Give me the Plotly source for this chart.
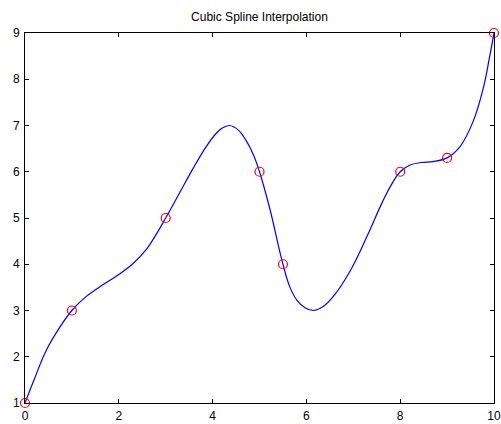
import plotly.graph_objects as go

# Data points (knots)
knot_x = [0, 1, 3, 5, 5.5, 8, 9, 10]
knot_y = [1, 3, 5, 6, 4, 6, 6.3, 9]

# Interpolated curve
curve_x = [0.0, 0.2, 0.45, 0.75, 1.0, 1.3, 1.65, 2.0, 2.3, 2.6, 2.8, 3.0, 3.3, 3.6, 3.85,
           4.05, 4.2, 4.36, 4.55, 4.7, 4.87, 5.0, 5.22, 5.5, 5.65, 5.8, 5.97, 6.15, 6.35,
           6.57, 6.93, 7.3, 7.6, 7.8, 8.0, 8.2, 8.45, 8.7, 9.0, 9.28, 9.56, 9.77, 9.9, 10.0]
curve_y = [1.0, 1.52, 2.13, 2.65, 3.0, 3.3, 3.55, 3.78, 4.01, 4.34, 4.65, 5.0, 5.55, 6.1, 6.52,
           6.8, 6.94, 7.0, 6.9, 6.7, 6.37, 6.0, 5.2, 4.0, 3.5, 3.22, 3.06, 3.0, 3.08,
           3.3, 3.85, 4.62, 5.3, 5.7, 6.0, 6.14, 6.2, 6.22, 6.3, 6.55, 7.1, 7.8, 8.45, 9.0]

x_ticks = [0, 2, 4, 6, 8, 10]
y_ticks = [1, 2, 3, 4, 5, 6, 7, 8, 9]

fig = go.Figure()
fig.add_trace(go.Scatter(x=curve_x, y=curve_y, mode="lines",
                         line=dict(color="#0000ff", width=1.2, shape="spline", smoothing=1.1),
                         hoverinfo="skip", showlegend=False))
fig.add_trace(go.Scatter(x=knot_x, y=knot_y, mode="markers",
                         marker=dict(symbol="circle-open", size=9, color="#ff0000",
                                     line=dict(width=1.2, color="#ff0000")),
                         cliponaxis=False, showlegend=False))

axis_common = dict(showgrid=False, zeroline=False, showline=True, linecolor="black",
                   linewidth=1, mirror="ticks", ticks="inside", ticklen=4, tickwidth=1,
                   tickcolor="black", automargin=False,
                   tickfont=dict(family="Liberation Sans, Arial, sans-serif", size=12, color="black"))

fig.update_layout(
    width=501, height=424,
    margin=dict(l=25, r=7, t=33, b=21, autoexpand=False),
    paper_bgcolor="white", plot_bgcolor="white",
    title=dict(text="Cubic Spline Interpolation", x=(25 + 234.5) / 501, xanchor="center",
               y=1 - 17 / 424, yanchor="middle",
               font=dict(family="Liberation Sans, Arial, sans-serif", size=12, color="black")),
    xaxis=dict(range=[0, 10], tickvals=x_ticks, ticktext=[str(v) for v in x_ticks], **axis_common),
    yaxis=dict(range=[1, 9], tickvals=y_ticks, ticktext=[str(v) for v in y_ticks], **axis_common),
)
fig.update_xaxes(ticklabelstandoff=2)
fig.update_yaxes(ticklabelstandoff=2)

fig.write_html("out.html")
